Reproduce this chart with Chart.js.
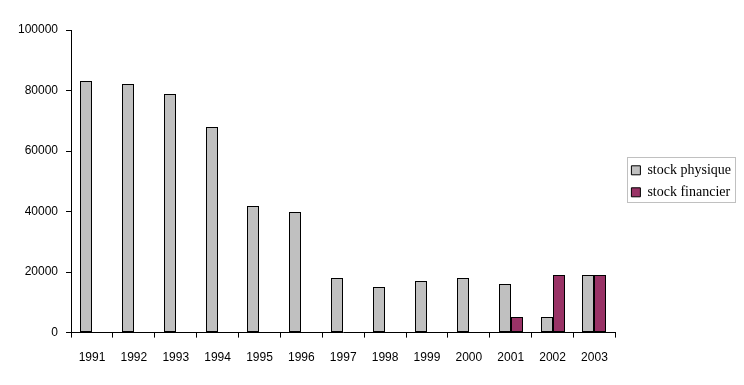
<!DOCTYPE html>
<html>
<head>
<meta charset="utf-8">
<script src="https://cdn.jsdelivr.net/npm/chart.js@4"></script>
<style>
  html, body { margin: 0; padding: 0; background: #fff; }
  #wrap { width: 744px; height: 385px; position: relative; }
</style>
</head>
<body>
<div id="wrap"><canvas id="stockChart"></canvas></div>
<script>
const years = ["1991", "1992", "1993", "1994", "1995", "1996", "1997",
    "1998", "1999", "2000", "2001", "2002", "2003"];

const stockPhysique = [83000, 82000, 79000, 68000, 42000, 40000, 18000,
    15000, 17000, 18000, 16000, 5000, 19000];

const stockFinancier = [null, null, null, null, null, null, null,
    null, null, null, 5000, 19000, 19000];

const yTicks = [0, 20000, 40000, 60000, 80000, 100000];

const legendGap = 8;

// snap bars to whole pixels so the thin black outline stays crisp
const crispBars = {
    id: "crispBars",
    afterDatasetsUpdate(chart) {
        chart.data.datasets.forEach((ds, i) => {
            chart.getDatasetMeta(i).data.forEach(el => {
                el.x = Math.round(el.x);
                el.width = Math.round(el.width);
                el.y = Math.round(el.y);
                el.base = Math.round(el.base);
            });
        });
    }
};

// legend sits a bit away from the plot and is centred on the plot height,
// with a thin grey frame around it
const legendFrame = {
    id: "legendFrame",
    afterInit(chart) {
        const lg = chart.legend;
        const fit = lg.fit;
        lg.fit = function () {
            fit.call(this);
            this.width += legendGap;
        };
    },
    afterLayout(chart) {
        const lg = chart.legend;
        const area = chart.chartArea;
        lg.left += legendGap;
        const shift = (area.top + area.bottom) / 2 - (lg.top + lg.bottom) / 2;
        lg.top += shift;
        lg.bottom += shift;
    },
    afterDraw(chart) {
        const lg = chart.legend;
        if (!lg || !lg.legendHitBoxes.length) return;
        const boxes = lg.legendHitBoxes;
        const first = boxes[0];
        const last = boxes[boxes.length - 1];
        const x0 = first.left - 4;
        let x1 = 0;
        boxes.forEach(b => { x1 = Math.max(x1, b.left + b.width); });
        const y0 = first.top + first.height / 2 - 13;
        const y1 = last.top + last.height / 2 + 10;
        const ctx = chart.ctx;
        ctx.save();
        ctx.strokeStyle = "#c0c0c0";
        ctx.lineWidth = 1;
        ctx.strokeRect(Math.round(x0) + 0.5, Math.round(y0) + 0.5,
            Math.round(x1 + 4 - x0), Math.round(y1 - y0));
        ctx.restore();
    }
};

const ctx = document.getElementById("stockChart").getContext("2d");

new Chart(ctx, {
    type: "bar",
    data: {
        labels: years,
        datasets: [
            {
                label: "stock physique",
                data: stockPhysique,
                backgroundColor: "#c0c0c0",
                borderColor: "#000000",
                borderWidth: 1,
                borderSkipped: false,
                inflateAmount: 0
            },
            {
                label: "stock financier",
                data: stockFinancier,
                backgroundColor: "#993366",
                borderColor: "#000000",
                borderWidth: 1,
                borderSkipped: false,
                inflateAmount: 0
            }
        ]
    },
    options: {
        responsive: true,
        maintainAspectRatio: false,
        animation: false,
        datasets: {
            bar: {
                barPercentage: 1,
                categoryPercentage: 0.575
            }
        },
        layout: {
            padding: { left: 10, right: 3, top: 30, bottom: 7 }
        },
        plugins: {
            tooltip: { enabled: false },
            legend: {
                position: "right",
                labels: {
                    boxWidth: 9,
                    boxHeight: 9,
                    padding: 8,
                    color: "#000",
                    font: { family: "Liberation Serif", size: 14 }
                }
            }
        },
        scales: {
            x: {
                offset: true,
                grid: {
                    offset: true,
                    drawOnChartArea: false,
                    drawTicks: true,
                    tickLength: 5,
                    color: "#000"
                },
                border: { color: "#000", width: 1 },
                ticks: {
                    color: "#000",
                    padding: 13,
                    maxRotation: 0,
                    font: { family: "Liberation Sans", size: 12 }
                }
            },
            y: {
                min: 0,
                max: 100000,
                afterBuildTicks(axis) {
                    axis.ticks = yTicks.map(v => ({ value: v }));
                },
                grid: {
                    drawOnChartArea: false,
                    drawTicks: true,
                    tickLength: 5,
                    color: "#000"
                },
                border: { color: "#000", width: 1 },
                ticks: {
                    color: "#000",
                    padding: 8,
                    font: { family: "Liberation Sans", size: 12 },
                    callback: v => String(v)
                }
            }
        }
    },
    plugins: [crispBars, legendFrame]
});
</script>
</body>
</html>
